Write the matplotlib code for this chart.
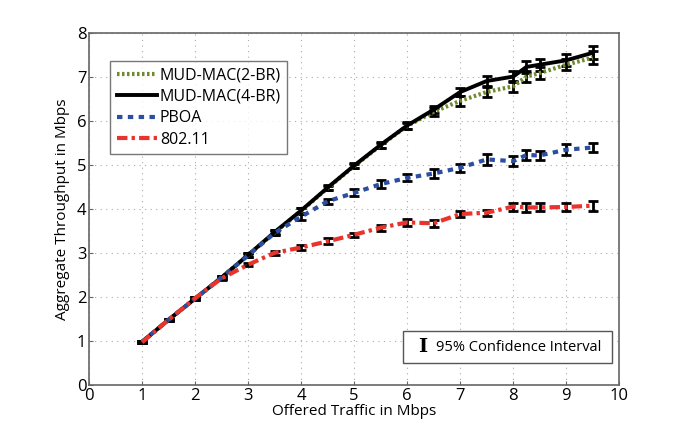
import numpy as np
import matplotlib
matplotlib.use("Agg")
from matplotlib import pyplot as plt
from matplotlib.patches import Rectangle

plt.rcParams['font.family'] = ['Open Sans', 'DejaVu Sans']

# offered traffic (Mbps)
x = [1, 1.5, 2, 2.5, 3, 3.5, 4, 4.5, 5, 5.5, 6, 6.5, 7, 7.5, 8, 8.25, 8.5, 9, 9.5]

# aggregate throughput (Mbps)
mud2 = [0.98, 1.48, 1.96, 2.44, 2.95, 3.46, 3.95, 4.47, 4.97, 5.44, 5.88, 6.20, 6.45, 6.65, 6.78, 7.00, 7.08, 7.27, 7.43]
mud4 = [0.98, 1.48, 1.96, 2.44, 2.95, 3.47, 3.96, 4.48, 4.98, 5.45, 5.89, 6.25, 6.65, 6.90, 7.00, 7.22, 7.27, 7.37, 7.54]
pboa = [0.98, 1.48, 1.96, 2.44, 2.94, 3.45, 3.82, 4.17, 4.36, 4.56, 4.70, 4.80, 4.93, 5.12, 5.08, 5.22, 5.21, 5.34, 5.39]
wifi = [0.97, 1.48, 1.97, 2.42, 2.73, 3.00, 3.12, 3.26, 3.41, 3.57, 3.69, 3.67, 3.88, 3.91, 4.05, 4.03, 4.03, 4.04, 4.07]

# 95% confidence half widths
ci_mud2 = [0.02, 0.02, 0.03, 0.04, 0.05, 0.05, 0.06, 0.05, 0.05, 0.06, 0.07, 0.09, 0.11, 0.12, 0.12, 0.12, 0.13, 0.13, 0.14]
ci_mud4 = [0.02, 0.02, 0.03, 0.04, 0.05, 0.05, 0.06, 0.05, 0.05, 0.06, 0.07, 0.08, 0.10, 0.12, 0.13, 0.13, 0.14, 0.14, 0.15]
ci_pboa = [0.02, 0.02, 0.03, 0.04, 0.04, 0.05, 0.07, 0.06, 0.08, 0.09, 0.08, 0.10, 0.09, 0.12, 0.12, 0.11, 0.11, 0.13, 0.11]
ci_wifi = [0.02, 0.02, 0.03, 0.04, 0.04, 0.05, 0.05, 0.07, 0.05, 0.07, 0.08, 0.08, 0.07, 0.07, 0.09, 0.10, 0.09, 0.10, 0.11]

fig = plt.figure(figsize=(6.85, 4.34), dpi=100)
ax = fig.add_axes([0.13, 0.113, 0.774, 0.812])

eb = dict(ecolor='black', elinewidth=2, capsize=3.5, capthick=2, zorder=4)
ax.errorbar(x, mud2, yerr=ci_mud2, color='#6f8a2e', lw=3, ls=(0, (0.6, 0.6)), label='MUD-MAC(2-BR)', **eb)
ax.errorbar(x, mud4, yerr=ci_mud4, color='black', lw=2.8, ls='-', label='MUD-MAC(4-BR)', **eb)
ax.errorbar(x, pboa, yerr=ci_pboa, color='#2b4ea3', lw=3, ls=(0, (1.3, 1.3)), label='PBOA', **eb)
ax.errorbar(x, wifi, yerr=ci_wifi, color='#e8342c', lw=3, ls=(0, (2.5, 1, 0.8, 1)), label='802.11', **eb)

ax.set_xlim(0, 10)
ax.set_ylim(0, 8)
ax.set_xticks(range(0, 11))
ax.set_yticks(range(0, 9))
ax.tick_params(direction='in', labelsize=12, length=3, color='#666666', pad=2)
ax.grid(True, ls=(0, (1, 4)), color='#aaaaaa', lw=0.8)
for s in ax.spines.values():
    s.set_color('#666666')
    s.set_linewidth(1.2)

ax.set_xlabel('Offered Traffic in Mbps', fontsize=11, labelpad=0)
ax.set_ylabel('Aggregate Throughput in Mbps', fontsize=11, labelpad=5)

handles, labels = ax.get_legend_handles_labels()
handles = [h[0] for h in handles]
leg = ax.legend(handles, labels, loc='upper left', bbox_to_anchor=(0.04, 0.92), fontsize=11.5,
                fancybox=False, edgecolor='#555555', handlelength=2.5, handletextpad=0.2,
                borderpad=0.4, labelspacing=0.35, borderaxespad=0)
leg.get_frame().set_linewidth(1)

# confidence interval key box
ax.add_patch(Rectangle((5.92, 0.5), 3.95, 0.73, fc='white', ec='#555555', lw=1, zorder=5))
ax.text(6.30, 0.86, 'I', fontsize=14, fontweight='bold', family='DejaVu Serif',
        va='center', ha='center', zorder=6)
ax.text(6.55, 0.86, '95% Confidence Interval', fontsize=10.5, va='center', ha='left', zorder=6)

fig.savefig('out.png', dpi=100)
